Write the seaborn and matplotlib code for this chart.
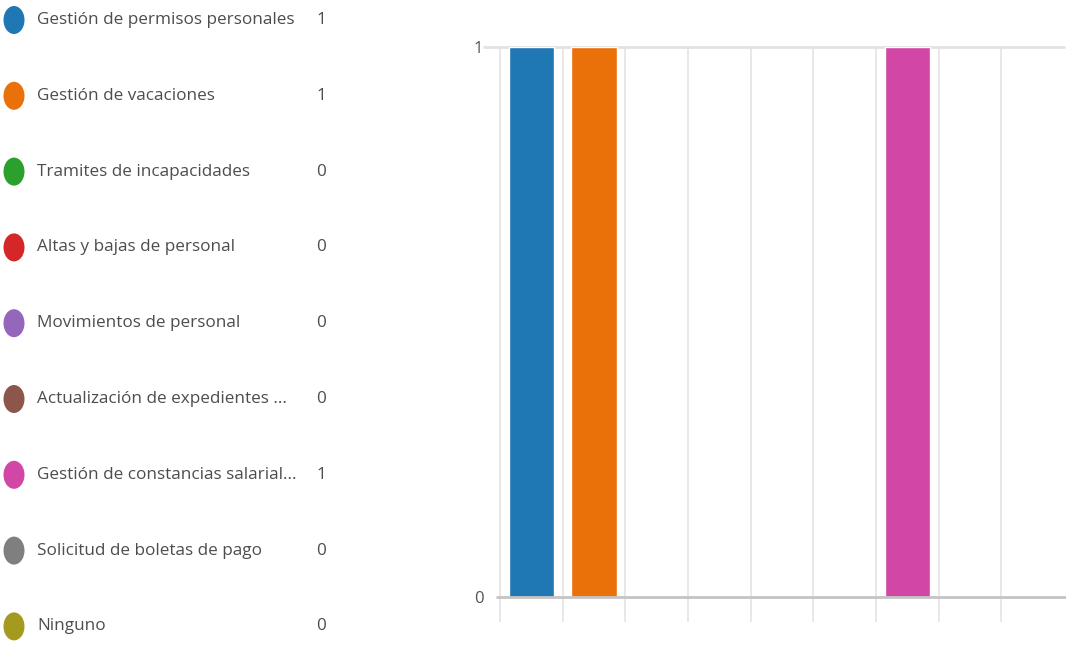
import matplotlib
matplotlib.use("Agg")
import matplotlib.pyplot as plt
import seaborn as sns
import pandas as pd
from matplotlib.patches import Ellipse
from matplotlib import font_manager as fm

categories = [
    "Gestión de permisos personales",
    "Gestión de vacaciones",
    "Tramites de incapacidades",
    "Altas y bajas de personal",
    "Movimientos de personal",
    "Actualización de expedientes ...",
    "Gestión de constancias salarial...",
    "Solicitud de boletas de pago",
    "Ninguno",
]
values = [1, 1, 0, 0, 0, 0, 1, 0, 0]
colors = ["#1f77b4", "#ea700a", "#2ca02c", "#d62728", "#9467bd",
          "#8c564b", "#d246a5", "#7f7f7f", "#a39a1f"]
yticks = [0, 1]

sns.set_theme(style="white")


def pick(fam):
    try:
        fm.findfont(fam, fallback_to_default=False)
        return fam
    except Exception:
        return None


narrow = pick("Liberation Sans Narrow")
font = narrow or "Open Sans"
plt.rcParams['font.family'] = [font, 'DejaVu Sans']
label_size = 15.7 if narrow else 12.35

W, H = 1066, 645
fig = plt.figure(figsize=(W / 100, H / 100), dpi=100)
fig.patch.set_facecolor("white")

# Bar chart
ax = fig.add_axes([500 / W, 48 / H, 564 / W, 550 / H])
df = pd.DataFrame({"cat": categories, "val": values})
sns.barplot(data=df, x="cat", y="val", hue="cat", palette=colors,
            legend=False, width=0.72, saturation=1, ax=ax, zorder=3)
ax.set_xlim(-0.5, len(categories) - 0.5)
ax.set_ylim(0, 1)
for s in ax.spines.values():
    s.set_visible(False)
ax.set_xticks([])
ax.set_xlabel("")
ax.set_ylabel("")
ax.set_yticks(yticks)
ax.set_yticklabels([str(v) for v in yticks], color="#555555", fontsize=12)
ax.tick_params(axis="y", length=0, pad=12)
ax.set_facecolor("white")

for i in range(len(categories)):
    ax.vlines(i - 0.5, -25 / 550, 1, colors="#e4e4e4", linewidth=1.2,
              clip_on=False, zorder=1)
ax.axhline(1, xmin=-16 / 564, xmax=1, color="#e2e2e2", linewidth=2,
           clip_on=False, zorder=1)
ax.axhline(0, xmin=-3 / 564, xmax=1 + 2 / 564, color="#c4c4c4", linewidth=2,
           clip_on=False, zorder=4)

# Legend
axl = fig.add_axes([0, 0, 340 / W, 1])
axl.set_xlim(0, 340)
axl.set_ylim(H, 0)
axl.axis("off")
for i, (c, v, col) in enumerate(zip(categories, values, colors)):
    y = 20 + i * 75.8
    axl.add_patch(Ellipse((14, y), 21, 28, facecolor=col, edgecolor="none"))
    axl.text(37, y, c, fontsize=label_size, color="#4d4d4d",
             va="center", ha="left")
    axl.text(316, y, str(v), fontsize=label_size, color="#4d4d4d",
             va="center", ha="left")

fig.savefig("out.png", dpi=100, facecolor="white")
